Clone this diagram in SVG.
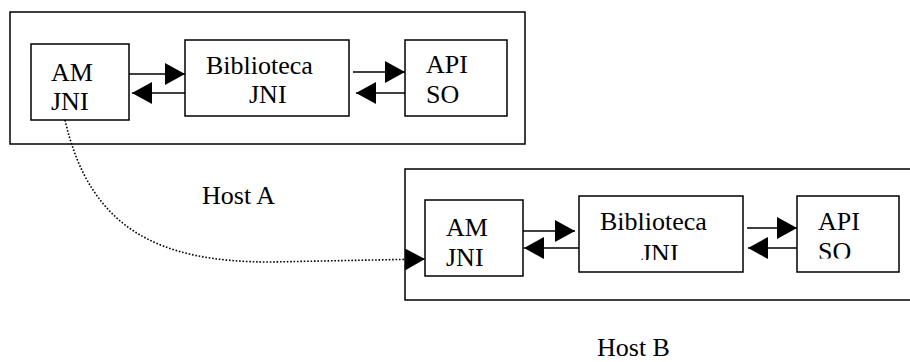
<svg xmlns="http://www.w3.org/2000/svg" width="910" height="362" viewBox="0 0 910 362">
  <style>
    .box { fill: none; stroke: #000; stroke-width: 1.5; }
    .lbl { font-family: "Liberation Serif", "Times New Roman", serif; font-size: 26px; fill: #000; }
    .arrow { fill: none; stroke: #000; stroke-width: 1.5; marker-end: url(#head); }
    .link { fill: none; stroke: #000; stroke-width: 1.6; stroke-dasharray: 1.6 1.8; marker-end: url(#head); }
  </style>
  <defs>
    <marker id="head" markerUnits="userSpaceOnUse" markerWidth="20" markerHeight="22" refX="20" refY="11" orient="auto" viewBox="0 0 20 22">
      <path d="M0,0 L20,11 L0,22 Z" fill="#000"/>
    </marker>
    <clipPath id="clipBibB"><rect x="579" y="196" width="164" height="64"/></clipPath>
    <clipPath id="clipApiB"><rect x="797" y="196" width="102" height="62.5"/></clipPath>
  </defs>
  <rect width="910" height="362" fill="#fff"/>

  <!-- Host A -->
  <g id="hostA">
    <rect class="box" x="10" y="12" width="515" height="132"/>
    <text class="lbl" x="202" y="204">Host A</text>
  </g>
  <g id="amA">
    <rect class="box" x="31" y="44" width="98" height="76"/>
    <text class="lbl" x="51" y="81">AM</text>
    <text class="lbl" x="51" y="110">JNI</text>
  </g>
  <g id="bibA">
    <rect class="box" x="185" y="40" width="164" height="76"/>
    <text class="lbl" x="206" y="74">Biblioteca</text>
    <text class="lbl" x="249" y="103">JNI</text>
  </g>
  <g id="apiA">
    <rect class="box" x="405" y="40" width="102" height="76"/>
    <text class="lbl" x="426" y="73">API</text>
    <text class="lbl" x="426" y="103">SO</text>
  </g>

  <!-- Host B -->
  <g id="hostB">
    <rect class="box" x="405" y="169" width="520" height="131"/>
    <text class="lbl" x="597" y="356">Host B</text>
  </g>
  <g id="amB">
    <rect class="box" x="425" y="200" width="98" height="76"/>
    <text class="lbl" x="446" y="236">AM</text>
    <text class="lbl" x="446" y="266">JNI</text>
  </g>
  <g id="bibB">
    <rect class="box" x="579" y="196" width="164" height="76"/>
    <text class="lbl" x="600" y="230">Biblioteca</text>
    <text class="lbl" x="641" y="262" clip-path="url(#clipBibB)">JNI</text>
  </g>
  <g id="apiB">
    <rect class="box" x="797" y="196" width="102" height="76"/>
    <text class="lbl" x="818" y="230">API</text>
    <text class="lbl" x="818" y="260" clip-path="url(#clipApiB)">SO</text>
  </g>

  <!-- connectors -->
  <g id="connectors">
    <path class="arrow" d="M129,74 H185"/>
    <path class="arrow" d="M185,93 H132"/>
    <path class="arrow" d="M353,72 H405"/>
    <path class="arrow" d="M405,93 H356"/>
    <path class="arrow" d="M523,231 H575"/>
    <path class="arrow" d="M579,248 H524"/>
    <path class="arrow" d="M747,228 H797"/>
    <path class="arrow" d="M797,248 H748"/>
    <path class="link" d="M65,120 C90,230 160,262 270,262 L425,259"/>
  </g>
</svg>
